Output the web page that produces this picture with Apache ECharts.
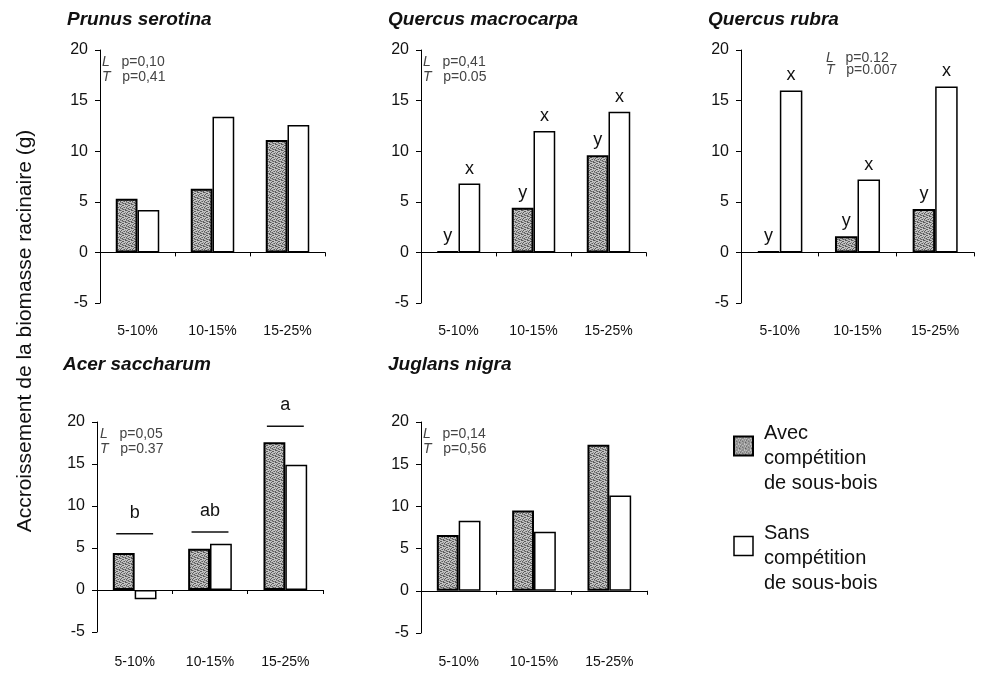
<!DOCTYPE html>
<html>
<head>
<meta charset="utf-8">
<script src="https://cdn.jsdelivr.net/npm/echarts@6/dist/echarts.min.js"></script>
<style>
  html, body { margin: 0; padding: 0; background: #fff; }
  #chart { width: 988px; height: 678px; }
</style>
</head>
<body>
<div id="chart"></div>
<script>
// Root biomass growth (g) by light class, with and without understory competition
const categories = ['5-10%', '10-15%', '15-25%'];
const yMin = -5, yMax = 20, yStep = 5;

const prunusAvec = [5.3, 6.3, 11.1];
const prunusSans = [4.2, 13.4, 12.6];

const macrocarpaAvec = [0.1, 4.4, 9.6];
const macrocarpaSans = [6.8, 12.0, 13.9];
const macrocarpaLettersAvec = ['y', 'y', 'y'];
const macrocarpaLettersSans = ['x', 'x', 'x'];

const rubraAvec = [0.1, 1.6, 4.3];
const rubraSans = [16.0, 7.2, 16.4];
const rubraLettersAvec = ['y', 'y', 'y'];
const rubraLettersSans = ['x', 'x', 'x'];

const acerAvec = [4.4, 4.9, 17.6];
const acerSans = [-1.1, 5.5, 14.9];
const acerGroupLetters = ['b', 'ab', 'a'];
const acerGroupLevels = [6.7, 6.9, 19.5];

const juglansAvec = [6.6, 9.5, 17.3];
const juglansSans = [8.3, 7.0, 11.3];

const speciesNames = ['Prunus serotina', 'Quercus macrocarpa', 'Quercus rubra', 'Acer saccharum', 'Juglans nigra'];
const pLight = ['0,10', '0,41', '0.12', '0,05', '0,14'];
const pTreat = ['0,41', '0.05', '0.007', '0.37', '0,56'];

const nameAvec = 'Avec compétition de sous-bois';
const nameSans = 'Sans compétition de sous-bois';
const legendLines = {};
// leading blank line lifts the swatch beside the first two lines
legendLines[nameAvec] = '\nAvec\ncompétition\nde sous-bois';
legendLines[nameSans] = '\nSans\ncompétition\nde sous-bois';
const yTitle = 'Accroissement de la biomasse racinaire (g)';

// Speckled grey fill for the "with competition" bars
function speckle() {
  const c = document.createElement('canvas');
  c.width = 6; c.height = 6;
  const ctx = c.getContext('2d');
  ctx.fillStyle = '#c2c2c2';
  ctx.fillRect(0, 0, 6, 6);
  ctx.fillStyle = '#5c5c5c';
  [[0,0],[3,1],[1,2],[4,3],[2,4],[5,5],[0,3],[3,5],[5,0],[2,1]].forEach(p => ctx.fillRect(p[0], p[1], 1, 1));
  ctx.fillStyle = '#8a8a8a';
  [[1,0],[5,2],[0,4],[3,3],[2,5],[4,5],[1,4]].forEach(p => ctx.fillRect(p[0], p[1], 1, 1));
  return c;
}
const speckleFill = { image: speckle(), repeat: 'repeat' };

const FONT = 'Liberation Sans, Arial, sans-serif';

const grids = [
  { left: 100, top: 50, width: 225, height: 253 },
  { left: 421, top: 50, width: 225, height: 253 },
  { left: 741, top: 50, width: 233, height: 253 },
  { left: 97, top: 422, width: 226, height: 210 },
  { left: 421, top: 422, width: 226, height: 211 }
].map(g => Object.assign({ outerBoundsMode: 'none', containLabel: false }, g));
const labelMargins = [21, 21, 21, 23, 22];

const xAxes = grids.map((g, i) => ({
  type: 'category', gridIndex: i, data: categories,
  axisLine: { onZero: true, lineStyle: { color: '#000', width: 1 } },
  axisTick: { show: true, length: 4, lineStyle: { color: '#000' } },
  axisLabel: { margin: labelMargins[i], fontSize: 14, color: '#111', fontFamily: FONT },
  splitLine: { show: false }
}));
const yAxes = grids.map((g, i) => ({
  type: 'value', gridIndex: i, min: yMin, max: yMax, interval: yStep,
  axisLine: { show: true, onZero: false, lineStyle: { color: '#000', width: 1 } },
  axisTick: { show: true, length: 5, lineStyle: { color: '#000' } },
  axisLabel: { margin: 12, fontSize: 16, color: '#111', fontFamily: FONT },
  splitLine: { show: false }
}));

function letterLabel(letters) {
  return {
    show: true, position: 'top', distance: 6,
    fontSize: 18, color: '#111', fontFamily: FONT,
    formatter: p => letters[p.dataIndex]
  };
}

function barPair(i, avec, sans, lettersAvec, lettersSans) {
  const common = { type: 'bar', xAxisIndex: i, yAxisIndex: i, barWidth: '29%', barGap: '0%', animation: false };
  return [
    Object.assign({}, common, {
      name: nameAvec, data: avec,
      itemStyle: { color: speckleFill, borderColor: '#000', borderWidth: 2 },
      label: lettersAvec ? letterLabel(lettersAvec) : { show: false }
    }),
    Object.assign({}, common, {
      name: nameSans, data: sans,
      itemStyle: { color: '#fff', borderColor: '#000', borderWidth: 1.5 },
      label: lettersSans ? letterLabel(lettersSans) : { show: false }
    })
  ];
}

// Significance bars with group letters over each light class
const acerGroups = {
  type: 'custom', xAxisIndex: 3, yAxisIndex: 3, animation: false, silent: true,
  data: acerGroupLevels.map((v, k) => [k, v]),
  renderItem: function (params, api) {
    const pt = api.coord([api.value(0), api.value(1)]);
    const half = api.size([1, 0])[0] * 0.245;
    return {
      type: 'group',
      children: [
        { type: 'line', shape: { x1: pt[0] - half, y1: pt[1], x2: pt[0] + half, y2: pt[1] },
          style: { stroke: '#111', lineWidth: 1.6 } },
        { type: 'text', x: pt[0], y: pt[1] - 21,
          style: { text: acerGroupLetters[params.dataIndex], fill: '#111', font: '18px ' + FONT,
                   textAlign: 'center', textVerticalAlign: 'middle' } }
      ]
    };
  }
};

const series = [].concat(
  barPair(0, prunusAvec, prunusSans),
  barPair(1, macrocarpaAvec, macrocarpaSans, macrocarpaLettersAvec, macrocarpaLettersSans),
  barPair(2, rubraAvec, rubraSans, rubraLettersAvec, rubraLettersSans),
  barPair(3, acerAvec, acerSans),
  [acerGroups],
  barPair(4, juglansAvec, juglansSans)
);

const titlePos = [[67, 10], [388, 10], [708, 10], [63, 355], [388, 355]];
const pPos = [[102, 55], [423, 55], [826, 52], [100, 427], [423, 427]];

const titles = [];
speciesNames.forEach((n, i) => {
  titles.push({
    text: n, left: titlePos[i][0], top: titlePos[i][1], padding: 0,
    textStyle: { fontSize: 19, fontWeight: 'bold', fontStyle: 'italic', color: '#111', fontFamily: FONT }
  });
  const lh = i === 2 ? 12 : 15;
  titles.push({
    text: '{i|L}   p=' + pLight[i] + '\n{i|T}   p=' + pTreat[i],
    left: pPos[i][0], top: pPos[i][1], padding: 0,
    textStyle: {
      fontSize: 14, fontWeight: 'normal', color: '#444', fontFamily: FONT, lineHeight: lh,
      rich: { i: { fontStyle: 'italic', fontSize: 14, color: '#444', fontFamily: FONT, lineHeight: lh } }
    }
  });
});

const chart = echarts.init(document.getElementById('chart'), null, { renderer: 'canvas' });
chart.setOption({
  backgroundColor: '#fff',
  animation: false,
  title: titles,
  grid: grids,
  xAxis: xAxes,
  yAxis: yAxes,
  legend: {
    orient: 'vertical', left: 733, top: 396, itemGap: 0, padding: 0,
    itemWidth: 19, itemHeight: 19, selectedMode: false,
    data: [
      { name: nameAvec, icon: 'rect', itemStyle: { color: speckleFill, borderColor: '#000', borderWidth: 2 } },
      { name: nameSans, icon: 'rect', itemStyle: { color: '#fff', borderColor: '#000', borderWidth: 1.5 } }
    ],
    formatter: n => legendLines[n],
    textStyle: { fontSize: 20, lineHeight: 25, color: '#111', fontFamily: FONT, padding: [0, 0, 0, 6] }
  },
  graphic: [{
    type: 'text', x: 25, y: 331, rotation: Math.PI / 2,
    style: { text: yTitle, fill: '#111', font: '21px ' + FONT, textAlign: 'center', textVerticalAlign: 'middle' }
  }],
  series: series
});
</script>
</body>
</html>
